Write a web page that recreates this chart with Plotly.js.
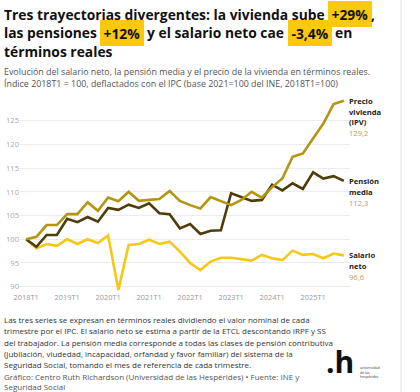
<!DOCTYPE html>
<html><head><meta charset="utf-8">
<script src="https://cdn.plot.ly/plotly-3.0.1.min.js"></script>
<style>html,body{margin:0;padding:0;background:#fff}#chart{width:420px;height:392px}</style>
</head><body><div id="chart"></div>
<script>
const quarters = ["2018T1","2018T2","2018T3","2018T4","2019T1","2019T2","2019T3","2019T4",
  "2020T1","2020T2","2020T3","2020T4","2021T1","2021T2","2021T3","2021T4",
  "2022T1","2022T2","2022T3","2022T4","2023T1","2023T2","2023T3","2023T4",
  "2024T1","2024T2","2024T3","2024T4","2025T1","2025T2","2025T3","2025T4"];
const xTicks = ["2018T1","2019T1","2020T1","2021T1","2022T1","2023T1","2024T1","2025T1"];
const yTicks = [90,95,100,105,110,115,120,125];
const vivienda = [100,100.5,103.0,103.0,105.3,105.3,107.8,106.0,108.8,108.0,110.0,108.1,108.3,108.5,110.2,108.1,
  107.2,106.5,108.9,108.0,107.2,108.3,110.0,108.8,111.0,112.8,117.4,118.1,121.3,124.4,128.5,129.2];
const pension = [100,98.4,100.9,100.9,104.3,103.6,104.7,103.7,106.6,106.2,107.3,106.6,107.6,105.5,105.3,102.3,
  103.2,101.1,101.8,101.9,109.7,108.9,108.1,108.3,111.5,110.3,111.8,110.6,114.1,112.8,113.3,112.3];
const salario = [100,98.1,99.0,98.6,100.0,99.0,100.0,99.2,100.8,89.3,98.8,99.0,99.9,99.0,99.5,97.4,
  95.0,93.5,95.3,96.1,96.1,95.8,95.5,96.7,96.0,95.6,97.6,96.7,96.9,96.0,97.0,96.6];
const seriesNames = [["Precio","vivienda","(IPV)"],["Pensión","media"],["Salario","neto"]];

const FONT = '"Open Sans", "Noto Sans", sans-serif';
const C_IPV = "#b5940f", C_PEN = "#4e3c0b", C_SAL = "#f5c814", C_HL = "#fac90c", C_VAL = "#b9a055";

const W=420,H=392,L=20,R=70,T=94,B=100;
const pw=W-L-R, ph=H-T-B;
const px = x => (x-L)/pw;
const py = y => (H-B-y)/ph;

const cv = document.createElement('canvas').getContext('2d');
function tw(t,s,b){cv.font=(b?'bold ':'')+s+'px "Open Sans"';return cv.measureText(t).width;}
function fit(t,target,b){return 10*target/tw(t,10,b);}

const ann = [];
function txt(x,y,text,size,color,bold,extra){
  ann.push(Object.assign({xref:'paper',yref:'paper',x:px(x),y:py(y),xanchor:'left',yanchor:'middle',
    text: bold?'<b>'+text+'</b>':text, showarrow:false, borderpad:0, borderwidth:0,
    font:{family:FONT,size:size,color:color}, align:'left'}, extra||{}));
}

// Title with highlighted figures
const tSize = fit("Tres trayectorias divergentes: la vivienda sube", 321, true);
const titleLines = [
  {y:14, items:[{t:"Tres trayectorias divergentes: la vivienda sube"},{t:"+29%",hl:1},{t:",",ns:1}]},
  {y:33, items:[{t:"las pensiones"},{t:"+12%",hl:1},{t:"y el salario neto cae"},{t:"-3,4%",hl:1},{t:"en"}]},
  {y:52, items:[{t:"términos reales"}]}
];
const sp = tw(" ",tSize,true), pad=3.5;
titleLines.forEach(line=>{
  let cur=4;
  line.items.forEach((it,i)=>{
    if(i>0 && !it.ns) cur += sp;
    const w = tw(it.t,tSize,true);
    if(it.hl){
      txt(cur,line.y,it.t,tSize,"#111",true,{bgcolor:C_HL,borderpad:pad});
      cur += w+2*pad;
    } else {
      txt(cur,line.y,it.t,tSize,"#111",true);
      cur += w;
    }
  });
});

// Subtitle
const subs = ["Evolución del salario neto, la pensión media y el precio de la vivienda en términos reales.",
  "Índice 2018T1 = 100, deflactados con el IPC (base 2021=100 del INE, 2018T1=100)"];
const sSize = fit(subs[0],367,false);
txt(4,78,subs.join('<br>'),sSize,"#555",false);

// Footnotes
const notes = ["Las tres series se expresan en términos reales dividiendo el valor nominal de cada",
  "trimestre por el IPC. El salario neto se estima a partir de la ETCL descontando IRPF y SS",
  "del trabajador. La pensión media corresponde a todas las clases de pensión contributiva",
  "(jubilación, viudedad, incapacidad, orfandad y favor familiar) del sistema de la",
  "Seguridad Social, tomando el mes de referencia de cada trimestre."];
const credits = ["Gráfico: Centro Ruth Richardson (Universidad de las Hespérides) • Fuente: INE y","Seguridad Social"];
const nSize = fit(notes[2],329,false);
const noteY=[319,330.5,342,353,364];
notes.forEach((n,i)=>txt(4,noteY[i],n,nSize,"#333",false));
txt(4,376.5,credits[0],nSize,"#555",false);
txt(4,386.5,credits[1],nSize,"#555",false);

// Logo
ann.push({xref:'paper',yref:'paper',x:px(326),y:py(361),xanchor:'left',yanchor:'middle',text:'<b>.h</b>',
  showarrow:false,borderpad:0,borderwidth:0,font:{family:FONT,size:30,color:'#111'}});
const logoSmall=["universidad","de las","hespérides"];
txt(360,372,logoSmall.join('<br>'),3.6,"#333",false);

// End labels
const finals=[vivienda,pension,salario];
const last = quarters[quarters.length-1];
finals.forEach((arr,k)=>{
  const v=arr[arr.length-1];
  const lines = seriesNames[k].map(s=>({t:'<b>'+s+'</b>',c:'#222'}));
  lines.push({t:v.toFixed(1).replace('.',','),c:C_VAL});
  lines.forEach((ln,j)=>{
    ann.push({xref:'x',yref:'y',x:last,y:v,xanchor:'left',yanchor:'middle',xshift:5.5,yshift:-j*10.8,
      text:ln.t,showarrow:false,borderpad:0,borderwidth:0,font:{family:FONT,size:7.6,color:ln.c},align:'left'});
  });
});

const mk=(y,c,n)=>({type:'scatter',mode:'lines',x:quarters,y:y,name:n,line:{color:c,width:2.6},hoverinfo:'skip',cliponaxis:false});
const data=[mk(salario,C_SAL,'Salario neto'),mk(pension,C_PEN,'Pensión media'),mk(vivienda,C_IPV,'Precio vivienda (IPV)')];

const layout={
  width:W,height:H,margin:{l:L,r:R,t:T,b:B,pad:0},
  paper_bgcolor:'#fff',plot_bgcolor:'#fff',showlegend:false,hovermode:false,
  font:{family:FONT},
  xaxis:{type:'category',range:[-0.6,31.6],tickvals:xTicks,ticktext:xTicks,showgrid:false,zeroline:false,
    showline:false,ticks:'',tickfont:{size:7.4,color:'#999',family:FONT},fixedrange:true},
  yaxis:{range:[88.88,130.63],tickvals:yTicks,ticktext:yTicks.map(String),showgrid:true,gridcolor:'#ececec',gridwidth:1,
    zeroline:false,showline:false,ticks:'',tickfont:{size:7.6,color:'#aaa',family:FONT},fixedrange:true},
  annotations:ann,
  shapes:[{type:'line',xref:'paper',yref:'paper',x0:px(401),x1:px(401),y0:py(0),y1:py(392),line:{color:'#e2e2e2',width:1}}]
};
Plotly.newPlot('chart',data,layout,{staticPlot:true,displayModeBar:false});
</script></body></html>
